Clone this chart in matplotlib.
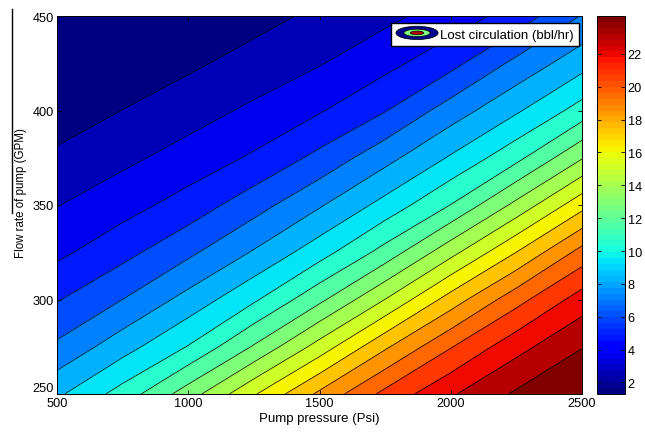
import numpy as np
import matplotlib
matplotlib.use("Agg")
import matplotlib.pyplot as plt
from matplotlib.patches import Ellipse, Patch
from matplotlib.legend_handler import HandlerBase
from matplotlib.lines import Line2D
from matplotlib.colors import Normalize
from matplotlib.cm import ScalarMappable

plt.rcParams["font.family"] = ["Liberation Sans", "DejaVu Sans"]

# pump pressure (Psi) and flow rate (GPM) grid
pressure = [500, 750, 1000, 1250, 1500, 1750, 2000, 2250, 2500]
flow = [250, 275, 300, 325, 350, 375, 400, 425, 450]
# lost circulation (bbl/hr), one row per flow rate
loss_250 = [8.76, 10.51, 12.81, 15.42, 17.96, 20.23, 21.97, 23.37, 24.30]
loss_275 = [6.98, 8.51, 10.12, 12.36, 14.90, 17.55, 19.85, 21.73, 23.16]
loss_300 = [5.60, 6.78, 8.25, 9.89, 11.99, 14.46, 17.12, 19.52, 21.52]
loss_325 = [4.33, 5.33, 6.54, 7.97, 9.59, 11.57, 14.08, 16.64, 19.22]
loss_350 = [3.45, 4.15, 5.04, 6.31, 7.75, 9.34, 11.18, 13.65, 16.26]
loss_375 = [2.61, 3.24, 3.91, 4.74, 5.98, 7.50, 9.09, 10.84, 13.27]
loss_400 = [1.76, 2.41, 3.03, 3.69, 4.49, 5.62, 7.29, 8.81, 10.52]
loss_425 = [1.50, 1.70, 2.19, 2.82, 3.42, 4.25, 5.33, 7.06, 8.55]
loss_450 = [1.30, 1.45, 1.63, 2.00, 2.63, 3.22, 3.99, 5.03, 6.84]

cbar_ticks = [2, 4, 6, 8, 10, 12, 14, 16, 18, 20, 22]

Z = np.array([loss_250, loss_275, loss_300, loss_325, loss_350,
              loss_375, loss_400, loss_425, loss_450])
P, Q = np.meshgrid(pressure, flow)
zmin, zmax = Z.min(), Z.max()
levels = np.linspace(zmin, zmax, 22)
band_colors = plt.cm.jet(np.linspace(0, 1, 21))


class ContourIcon(HandlerBase):
    def create_artists(self, legend, orig_handle, xdescent, ydescent,
                       width, height, fontsize, trans):
        cx = width / 2 - xdescent
        cy = height / 2 - ydescent
        arts = []
        for w, h, c in [(width, height * 1.45, "#00008c"),
                        (width * 0.62, height * 0.8, "#80ff80"),
                        (width * 0.32, height * 0.4, "#b00000")]:
            arts.append(Ellipse((cx, cy), w, h, facecolor=c, edgecolor="k",
                                lw=0.5, transform=trans))
        return arts


fig = plt.figure(figsize=(6.45, 4.35), dpi=100)
ax = fig.add_axes([57 / 645, 1 - 395 / 435, 525 / 645, 378 / 435])

ax.contourf(P, Q, Z, levels=levels, colors=band_colors)
ax.contour(P, Q, Z, levels=levels[1:-1], colors="k", linewidths=0.5)

ax.set_xlim(500, 2500)
ax.set_ylim(250, 450)
ax.set_xticks([500, 1000, 1500, 2000, 2500])
ax.set_yticks([250, 300, 350, 400, 450])
ax.tick_params(direction="in", top=True, right=True, labelsize=9.2, length=3,
               width=0.6, pad=2)
ax.get_yticklabels()[0].set_va("bottom")
ax.set_xlabel("Pump pressure (Psi)", fontsize=9.5, labelpad=2)
ax.set_ylabel("Flow rate of pump (GPM)", fontsize=8.3)
ax.yaxis.set_label_coords(-0.058, (395 - 193) / 378)
for s in ax.spines.values():
    s.set_linewidth(0.7)

ax.legend([Patch()], ["Lost circulation (bbl/hr)"],
          handler_map={Patch: ContourIcon()},
          loc="upper right", bbox_to_anchor=(579 / 645, 1 - 24 / 435),
          bbox_transform=fig.transFigure, borderaxespad=0,
          fancybox=False, framealpha=1, edgecolor="k", fontsize=9.5,
          handlelength=3.2, handletextpad=0.15, borderpad=0.4)

cax = fig.add_axes([597 / 645, 1 - 395 / 435, 28 / 645, 378 / 435])
sm = ScalarMappable(norm=Normalize(zmin, zmax), cmap=plt.get_cmap("jet", 64))
cb = fig.colorbar(sm, cax=cax, ticks=cbar_ticks)
cb.ax.tick_params(direction="in", labelsize=9.2, length=3, width=0.6,
                  left=True, pad=2)
cb.outline.set_linewidth(0.7)

fig.add_artist(Line2D([12 / 645, 12 / 645], [1 - 10 / 435, 1 - 214 / 435],
                      color="k", lw=1))

fig.savefig("out.png", dpi=100)
